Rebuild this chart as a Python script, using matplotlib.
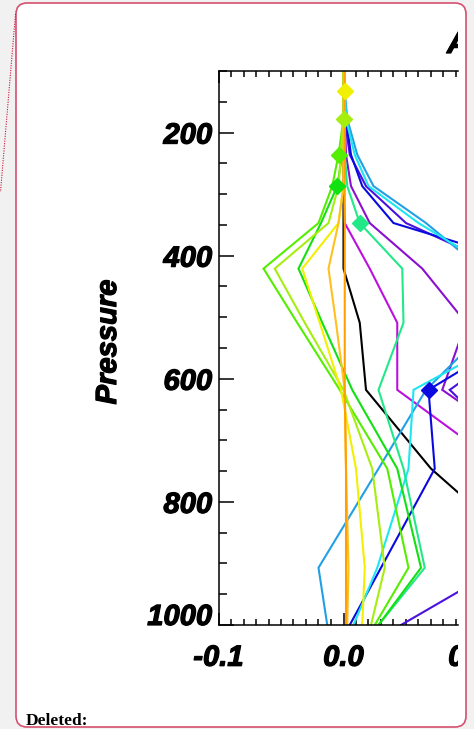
import matplotlib
matplotlib.use("Agg")
import matplotlib.pyplot as plt
import matplotlib.transforms as mtransforms
import matplotlib.patheffects as pe
from matplotlib.patches import FancyBboxPatch
from matplotlib.lines import Line2D
import numpy as np

# ---------------- data ----------------
pressure = [1000, 907, 746, 618, 509, 421, 347, 287, 236, 178, 132, 100]

black   = [0.175, 0.160, 0.070, 0.018, 0.013, 0.000, 0.000, 0.000, 0.000, 0.000, 0.000, 0.000]
magenta = [0.150, 0.160, 0.129, 0.043, 0.043, 0.021, 0.001, 0.000, 0.000, 0.000, 0.000, 0.000]
purple  = [0.140, 0.170, 0.170, 0.079, 0.098, 0.063, 0.021, 0.006, 0.002, 0.001, 0.000, 0.000]
violet  = [0.046, 0.125, 0.150, 0.085, 0.160, 0.130, 0.050, 0.018, 0.005, 0.001, 0.000, 0.000]
blue    = [0.005, 0.030, 0.073, 0.068, 0.157, 0.160, 0.040, 0.015, 0.006, 0.002, 0.000, 0.000]
ltblue  = [-0.013, -0.020, 0.028, 0.066, 0.120, 0.110, 0.066, 0.024, 0.011, 0.003, 0.001, 0.000]
cyan    = [0.008, 0.027, 0.052, 0.056, 0.155, 0.120, 0.060, 0.020, 0.009, 0.002, 0.001, 0.000]
spring  = [0.028, 0.065, 0.048, 0.028, 0.048, 0.047, 0.013, 0.003, 0.001, 0.000, 0.000, 0.000]
green2  = [0.028, 0.062, 0.043, 0.007, -0.017, -0.036, -0.018, -0.005, -0.001, 0.000, 0.000, 0.000]
green1  = [0.025, 0.052, 0.035, -0.003, -0.037, -0.064, -0.020, -0.009, -0.004, 0.000, 0.000, 0.000]
yelgrn  = [0.022, 0.033, 0.023, 0.000, -0.031, -0.055, -0.012, -0.004, -0.002, 0.000, 0.000, 0.000]
yellow  = [0.015, 0.017, 0.010, -0.002, -0.019, -0.033, -0.004, 0.000, 0.000, 0.001, 0.001, 0.001]
orange1 = [0.003, 0.004, 0.002, 0.001, -0.006, -0.012, -0.004, 0.000, 0.000, 0.000, 0.000, 0.000]
orange2 = [0.002, 0.002, 0.002, 0.001, 0.001, 0.001, 0.001, 0.001, 0.001, 0.001, 0.001, 0.001]

series = [
    (black, '#000000', None),
    (magenta, '#bb11dd', None),
    (purple, '#8a10d0', None),
    (violet, '#4a10e0', None),
    (blue, '#0a0ae0', 618),
    (ltblue, '#22a0e6', None),
    (cyan, '#1ee6f0', None),
    (spring, '#22e888', 347),
    (green2, '#11e011', 287),
    (green1, '#55ee00', 236),
    (yelgrn, '#a6ee10', 178),
    (yellow, '#f0f000', 132),
    (orange1, '#ffc020', None),
    (orange2, '#ffa000', None),
]

xticks = [-0.1, 0.0, 0.1]
xticklabels = ['-0.1', '0.0', '0.1']
yticks = [200, 400, 600, 800, 1000]
yticklabels = ['200', '400', '600', '800', '1000']

# ---------------- figure ----------------
W, H = 474, 729
fig = plt.figure(figsize=(W / 100, H / 100), dpi=100)
fig.patch.set_facecolor('#f1f1f1')
ident = mtransforms.IdentityTransform()

def dy(y):
    return H - y

box = FancyBboxPatch((16, dy(727)), 450, 724,
                     boxstyle="round,pad=0,rounding_size=11",
                     transform=ident, facecolor='white', edgecolor='#d4506e',
                     linewidth=1.2, zorder=-5)
fig.patches.append(box)
fig.lines.append(Line2D([15.5, 0.5], [dy(14), dy(192)], transform=ident,
                        color='#c8143c', linestyle=(0, (1, 1.2)), linewidth=0.8,
                        zorder=-4))

fig.text(26 / W, 1 - 725 / H, 'Deleted:', family='Liberation Serif',
         weight='bold', size=12.5, va='baseline', ha='left')

L, R, T, B = 218.5, 458, 71, 625
ax = fig.add_axes([L / W, (H - B) / H, (R - L) / W, (B - T) / H])
ax.set_zorder(1)
ax.set_facecolor('white')
xmax = -0.1 + (R - L) / 1250.0
ax.set_xlim(-0.1, xmax)
ax.set_ylim(1000, 100)

for vals, col, mk in series:
    ax.plot(vals, pressure, color=col, lw=1.5, solid_joinstyle='miter', zorder=2)
    if mk is not None:
        i = pressure.index(mk)
        ax.plot([vals[i]], [mk], marker='D', ms=8, color=col, mec=col, zorder=3)

ax.spines['right'].set_visible(False)
for s in ['left', 'top', 'bottom']:
    ax.spines[s].set_linewidth(1.1)

bold = [pe.withStroke(linewidth=0.9, foreground='black')]
tickfont = dict(family='Liberation Sans', weight='bold', style='italic', size=21)
ax.set_xticks(xticks[:2])
ax.set_xticklabels(xticklabels[:2], **tickfont)
ax.set_xticks(np.arange(-0.1, xmax, 0.01), minor=True)
ax.set_yticks(yticks)
ax.set_yticklabels(yticklabels, **tickfont)
ax.set_yticks(np.arange(100, 1001, 50), minor=True)
ax.tick_params(axis='x', which='major', direction='in', length=8.6, width=1.1,
               top=True, bottom=True, pad=13.5)
ax.tick_params(axis='x', which='minor', direction='in', length=4.3, width=1.1,
               top=True, bottom=True)
ax.tick_params(axis='y', which='major', direction='in', length=10.8, width=1.1,
               left=True, right=False, pad=4.5)
ax.tick_params(axis='y', which='minor', direction='in', length=5.8, width=1.1,
               left=True, right=False)
for lab in ax.get_xticklabels() + ax.get_yticklabels():
    lab.set_path_effects(bold)
ylabs = ax.get_yticklabels()
ylabs[-1].set_verticalalignment('baseline')

clipbox = mtransforms.Bbox.from_extents(0, 0, R, H)
t = ax.text(0.1, 1000, xticklabels[2], ha='center', va='top', clip_on=True,
            path_effects=bold, **tickfont)
t.set_transform(ax.transData + mtransforms.ScaledTranslation(0, -13.5 / 72, fig.dpi_scale_trans))
t.set_clip_box(clipbox)

t2 = fig.text(447 / W, 1 - 53 / H, 'A', family='Liberation Sans', weight='bold',
              style='italic', size=22, ha='left', va='baseline', path_effects=bold)
t2.set_clip_on(True)
t2.set_clip_box(clipbox)

fig.text(108 / W, 1 - 342 / H, 'Pressure', rotation=90, ha='center', va='center',
         path_effects=bold, **tickfont)

fig.savefig('out.png', dpi=100, facecolor=fig.get_facecolor())
